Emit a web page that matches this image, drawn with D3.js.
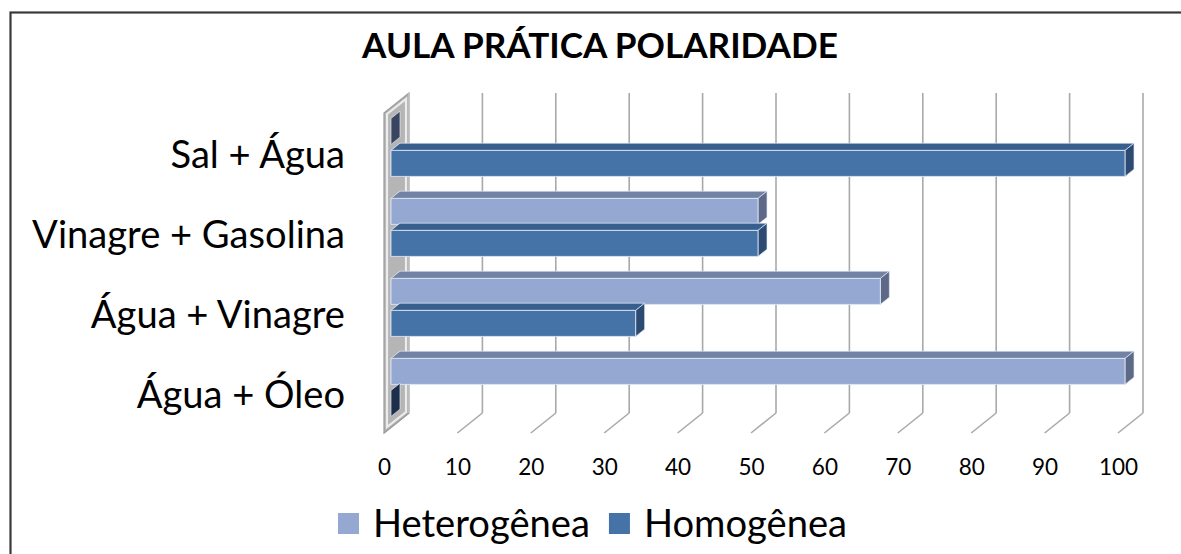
<!DOCTYPE html>
<html>
<head>
<meta charset="utf-8">
<script src="https://cdn.jsdelivr.net/npm/d3@7"></script>
<style>
  html, body { margin: 0; padding: 0; background: #fff; }
  svg { display: block; }
  text { font-family: Lato, "Open Sans", sans-serif; fill: #000; }
</style>
</head>
<body>
<svg id="chart" width="1181" height="554"></svg>
<script>
// Data
const categories = ["Sal + Água", "Vinagre + Gasolina", "Água + Vinagre", "Água + Óleo"];
const seriesNames = ["Heterogênea", "Homogênea"];
const heterogenea = [0, 50, 66.67, 100];
const homogenea = [100, 50, 33.33, 0];
const xTicks = [0, 10, 20, 30, 40, 50, 60, 70, 80, 90, 100];
const titleText = "AULA PRÁTICA POLARIDADE";

// Colours per series: front, top, end, zero-cap
const palette = {
  "Heterogênea": { front: "#95a8d1", top: "#7282a4", end: "#5d6986", cap: "#3a455f" },
  "Homogênea":   { front: "#4572a7", top: "#375e8c", end: "#2c4a72", cap: "#1c2e4a" }
};

const svg = d3.select("#chart");
const W = 1181, H = 554;

// Front plane of the plot and the depth offset of the back wall
const plot = { left: 384, right: 1118, top: 113, bottom: 433 };
const DX = 25, DY = 20;
const barZ0 = 0.28, barZ1 = 0.64;

const x = d3.scaleLinear().domain([0, 100]).range([plot.left, plot.right]);
const y = d3.scaleBand().domain(categories).range([plot.top, plot.bottom]);
const sub = d3.scaleBand().domain(seriesNames).range([0, y.bandwidth()])
  .paddingInner(0.1875).paddingOuter(0.34375);

// project a value / front-plane y / depth into screen coordinates
const P = (v, yy, z) => [x(v) + z * DX, yy - z * DY];
const poly = pts => pts.map(p => p.join(",")).join(" ");

// Outer frame
svg.append("rect")
  .attr("x", 10.5).attr("y", 12.5).attr("width", W).attr("height", H)
  .attr("fill", "none").attr("stroke", "#3a3a3a").attr("stroke-width", 2.2);

// Back-wall gridlines and floor lines
const grid = svg.append("g").attr("stroke", "#a9a9a9").attr("stroke-width", 1.6).attr("fill", "none");
grid.selectAll("line.v").data(xTicks.filter(t => t > 0)).join("line")
  .attr("class", "v")
  .attr("x1", t => P(t, plot.top, 1)[0]).attr("y1", t => P(t, plot.top, 1)[1])
  .attr("x2", t => P(t, plot.bottom, 1)[0]).attr("y2", t => P(t, plot.bottom, 1)[1]);
grid.selectAll("line.f").data(xTicks).join("line")
  .attr("class", "f")
  .attr("x1", t => P(t, plot.bottom, 1)[0]).attr("y1", t => P(t, plot.bottom, 1)[1])
  .attr("x2", t => P(t, plot.bottom, 0)[0]).attr("y2", t => P(t, plot.bottom, 0)[1]);

// Side wall at value 0
const wall = [P(0, plot.top, 0), P(0, plot.top, 1), P(0, plot.bottom, 1), P(0, plot.bottom, 0)];
svg.append("polygon").attr("points", poly(wall))
  .attr("fill", "#b5b5b5").attr("stroke", "#9b9b9b").attr("stroke-width", 1.2);
const inset = [
  [wall[0][0] + 3, wall[0][1] + 1], [wall[1][0] - 3, wall[1][1] + 6],
  [wall[2][0] - 3, wall[2][1] - 1], [wall[3][0] + 3, wall[3][1] - 6]
];
svg.append("polygon").attr("points", poly(inset))
  .attr("fill", "none").attr("stroke", "#ececec").attr("stroke-width", 2.2);
svg.append("line")
  .attr("x1", wall[1][0]).attr("y1", wall[1][1]).attr("x2", wall[2][0]).attr("y2", wall[2][1])
  .attr("stroke", "#c8c8c8").attr("stroke-width", 1.4);

// Bars
const bars = [];
categories.forEach((c, i) => {
  bars.push({ cat: c, s: "Heterogênea", v: heterogenea[i] });
  bars.push({ cat: c, s: "Homogênea", v: homogenea[i] });
});

const edge = "rgba(225,233,246,0.85)";
const barG = svg.append("g");
bars.forEach(b => {
  const y0 = y(b.cat) + sub(b.s), y1 = y0 + sub.bandwidth();
  const col = palette[b.s];
  const g = barG.append("g");
  // end cap at zero
  g.append("polygon")
    .attr("points", poly([P(0, y0, barZ0), P(0, y0, barZ1), P(0, y1, barZ1), P(0, y1, barZ0)]))
    .attr("fill", col.cap).attr("stroke", edge).attr("stroke-width", 0.8);
  if (b.v > 0) {
    g.append("polygon")
      .attr("points", poly([P(0, y0, barZ0), P(0, y0, barZ1), P(b.v, y0, barZ1), P(b.v, y0, barZ0)]))
      .attr("fill", col.top).attr("stroke", edge).attr("stroke-width", 0.8);
    g.append("polygon")
      .attr("points", poly([P(b.v, y0, barZ0), P(b.v, y0, barZ1), P(b.v, y1, barZ1), P(b.v, y1, barZ0)]))
      .attr("fill", col.end).attr("stroke", edge).attr("stroke-width", 0.8);
    g.append("polygon")
      .attr("points", poly([P(0, y0, barZ0), P(b.v, y0, barZ0), P(b.v, y1, barZ0), P(0, y1, barZ0)]))
      .attr("fill", col.front).attr("stroke", edge).attr("stroke-width", 1);
  }
});

// scale a text's font-size so it spans the wanted width
function fit(sel, width, start) {
  sel.style("font-size", start + "px");
  const w = sel.node().getComputedTextLength();
  const size = start * width / w;
  sel.style("font-size", size + "px");
  return size;
}

// Title
const title = svg.append("text").attr("x", 600).attr("y", 58)
  .attr("text-anchor", "middle").style("font-weight", "bold").text(titleText);
fit(title, 476, 30);

// Category axis
const yAxisG = svg.append("g").attr("transform", `translate(345,1)`)
  .call(d3.axisLeft(y).tickSize(0).tickPadding(0));
yAxisG.select(".domain").remove();
const catText = yAxisG.selectAll("text");
const probe = catText.filter(d => d === "Vinagre + Gasolina");
const catSize = fit(probe, 313, 36);
catText.style("font-size", catSize + "px").attr("font-family", null).attr("dy", "0.36em");

// Value axis
const xAxisG = svg.append("g").attr("transform", `translate(0,${plot.bottom})`)
  .call(d3.axisBottom(x).tickValues(xTicks).tickSize(0).tickPadding(26).tickFormat(d3.format("d")));
xAxisG.select(".domain").remove();
xAxisG.selectAll("text").style("font-size", "22.5px").attr("font-family", null);

// Legend
const legend = svg.append("g");
let lx = 338;
const legendSizeProbe = legend.append("text").attr("x", 0).attr("y", 0).text(seriesNames[0]);
const legSize = fit(legendSizeProbe, 217, 36);
legendSizeProbe.remove();
seriesNames.forEach(s => {
  legend.append("rect").attr("x", lx).attr("y", 513).attr("width", 21).attr("height", 21)
    .attr("fill", palette[s].front);
  const t = legend.append("text").attr("x", lx + 35).attr("y", 537)
    .style("font-size", legSize + "px").text(s);
  lx = lx + 35 + t.node().getComputedTextLength() + 19;
});
</script>
</body>
</html>
